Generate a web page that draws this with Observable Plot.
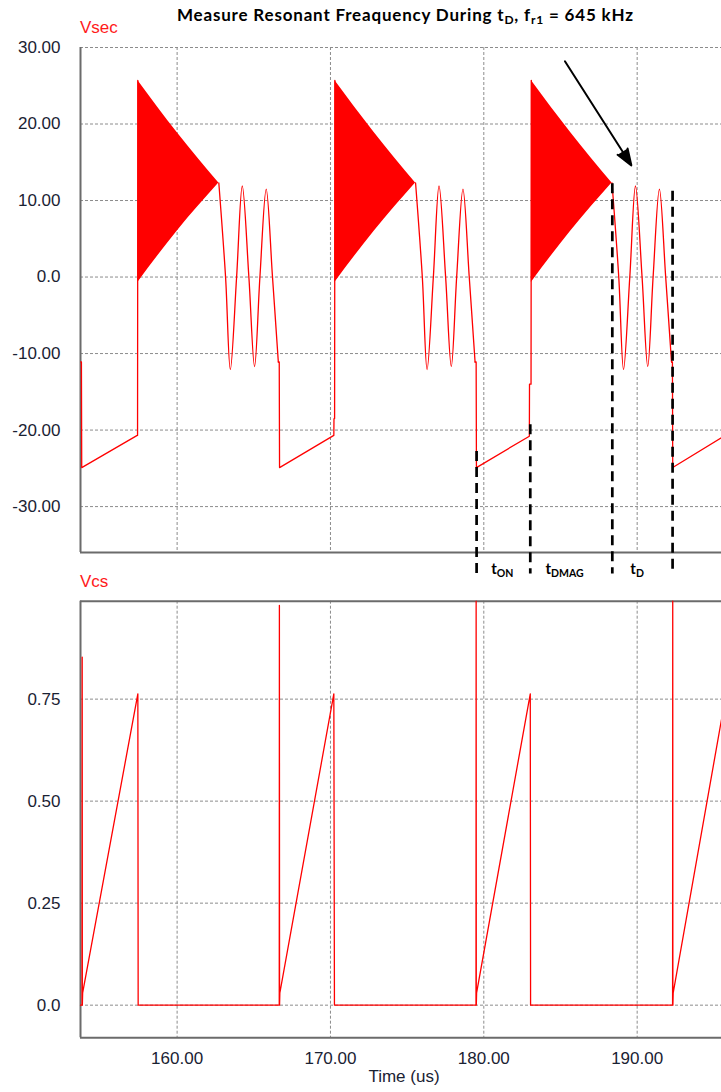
<!DOCTYPE html>
<html>
<head>
<meta charset="utf-8">
<script src="https://cdn.jsdelivr.net/npm/d3@7"></script>
<script src="https://cdn.jsdelivr.net/npm/@observablehq/plot@0.6"></script>
<style>
  body { margin: 0; background: #fff; }
  #wrap { position: relative; width: 721px; height: 1092px; overflow: hidden; background: #fff; }
  .panel { position: absolute; left: 0; }
  #overlay { position: absolute; left: 0; top: 0; pointer-events: none; }
</style>
</head>
<body>
<div id="wrap">
  <div id="p1" class="panel" style="top:0px"></div>
  <div id="p2" class="panel" style="top:580px"></div>
  <svg id="overlay" width="721" height="1092"></svg>
</div>
<script>
// ---------------- data ----------------
const xDomain = [153.7, 195.5];
const xTicks = [160, 170, 180, 190];
const xTickLabels = ["160.00", "170.00", "180.00", "190.00"];

const vsecDomain = [-36, 30];
const vsecTicks = [30, 20, 10, 0, -10, -20, -30];
const vsecTickLabels = ["30.00", "20.00", "10.00", "0.0", "-10.00", "-20.00", "-30.00"];

const vcsDomain = [-0.08, 0.99];
const vcsTicks = [0.75, 0.5, 0.25, 0];
const vcsTickLabels = ["0.75", "0.50", "0.25", "0.0"];

// Vsec piecewise-linear parts (null = break)
const vsecLineT = [153.72, 153.76, 153.78, 157.40, 157.42, 157.44, null,
                   166.60, 166.66, 166.68, 170.22, 170.23, 170.27, 170.29, null,
                   179.43, 179.50, 179.52, 182.97, 182.98, 183.08, 183.10, null,
                   192.24, 192.30, 192.32, 195.50];
const vsecLineV = [-11.1, -11.1, -24.9, -20.7, -20.7, 25.7, null,
                   -11.1, -11.1, -24.9, -20.7, -18.5, -18.5, 25.7, null,
                   -11.1, -11.1, -24.9, -20.8, -14.0, -14.0, 25.7, null,
                   -11.1, -11.1, -24.9, -21.0];

// Vsec resonant ringing during tD (null = break)
const ringT = [162.72, 163.16, 163.47, 163.88, 164.25, 164.68, 165.05, 165.40, 165.81, 166.22, 166.60, null,
               175.55, 175.99, 176.30, 176.71, 177.08, 177.51, 177.88, 178.23, 178.64, 179.05, 179.43, null,
               188.36, 188.80, 189.11, 189.52, 189.89, 190.32, 190.69, 191.04, 191.45, 191.86, 192.24];
const ringV = [12.3, 0, -12.1, 0, 11.9, 0, -11.7, 0, 11.5, 0, -11.1, null,
               12.3, 0, -12.1, 0, 11.9, 0, -11.7, 0, 11.5, 0, -11.1, null,
               12.3, 0, -12.1, 0, 11.9, 0, -11.7, 0, 11.5, 0, -11.1];

// Envelope of the fast ringing during tDMAG
const envCycle = [1, 1, 1, 2, 2, 2, 3, 3, 3];
const envT  = [157.44, 160.00, 162.72, 170.29, 172.85, 175.55, 183.10, 185.66, 188.36];
const envHi = [25.7, 18.9, 12.3, 25.7, 18.9, 12.3, 25.7, 18.9, 12.3];
const envLo = [-0.7, 6.0, 12.3, -0.7, 6.0, 12.3, -0.7, 6.0, 12.3];

// Vcs trace
const vcsT = [153.70, 153.80, 153.81, 153.82, 153.84, 157.44, 157.46,
              166.66, 166.67, 166.68, 166.70, 170.22, 170.26,
              179.49, 179.50, 179.51, 179.53, 183.03, 183.05,
              192.31, 192.32, 192.33, 192.35, 195.50];
const vcsV = [0, 0, 0.853, 0, 0.03, 0.763, 0,
              0, 0.98, 0, 0.03, 0.763, 0,
              0, 0.99, 0, 0.03, 0.763, 0,
              0, 0.99, 0, 0.03, 0.70];

// Annotations
const markerT = [179.53, 183.03, 188.38, 192.31];
const markerTop = [-22.8, -19.3, 12.2, 11.2];
const markerBottom = [-38.8, -38.8, -38.8, -38.8];
const phaseLabels = ["t|ON", "t|DMAG", "t|D"];
const phaseT = [181.2, 185.27, 190.0];
const phaseY = [-38.8, -38.8, -38.8];
const arrowFrom = [185.29, 28.2];
const arrowTo = [189.62, 14.6];

// ---------------- build ----------------
const RED = "#ff0000";
const GRID = { stroke: "#8c8c8c", strokeOpacity: 1, strokeDasharray: "3,2", strokeWidth: 1 };
const AXIS = { stroke: "#6b6b6b", strokeWidth: 2 };
const TICKCOLOR = "#1a2233";
const fmt = (ticks, labels) => { const m = new Map(ticks.map((t, i) => [t, labels[i]])); return d => m.get(d); };

const vsecLine = vsecLineT.map((t, i) => ({ t, v: vsecLineV[i] }));
const ring = ringT.map((t, i) => ({ t, v: ringV[i] }));
const env = envT.map((t, i) => ({ t, hi: envHi[i], lo: envLo[i], c: envCycle[i] }));
const vcs = vcsT.map((t, i) => ({ t, v: vcsV[i] }));
const markers = markerT.map((t, i) => ({ t, top: markerTop[i], bottom: markerBottom[i] }));
const phases = phaseLabels.map((s, i) => ({ s, t: phaseT[i], y: phaseY[i] }));
const arrows = [{ x1: arrowFrom[0], y1: arrowFrom[1], x2: arrowTo[0], y2: arrowTo[1] }];

const style = { fontFamily: "'Liberation Sans', Arial, sans-serif", fontSize: "17px", color: TICKCOLOR, background: "transparent", overflow: "visible" };

const p1 = Plot.plot({
  width: 721, height: 580,
  marginTop: 47, marginBottom: 28, marginLeft: 80, marginRight: 0,
  x: { domain: xDomain, axis: null },
  y: { domain: vsecDomain, axis: null },
  style,
  marks: [
    Plot.gridX(xTicks, GRID),
    Plot.gridY(vsecTicks, GRID),
    Plot.axisY(vsecTicks, { tickSize: 0, tickPadding: 20, tickFormat: fmt(vsecTicks, vsecTickLabels), label: null, fontSize: 17, fill: TICKCOLOR }),
    Plot.ruleX([xDomain[0]], AXIS),
    Plot.ruleY([vsecDomain[0]], AXIS),
    Plot.areaY(env, { x: "t", y1: "lo", y2: "hi", z: "c", fill: RED, curve: "monotone-x" }),
    Plot.line(vsecLine, { x: "t", y: "v", stroke: RED, strokeWidth: 1.3 }),
    Plot.line(ring, { x: "t", y: "v", stroke: RED, strokeWidth: 1.3, curve: "catmull-rom" }),
    Plot.ruleX(markers, { x: "t", y1: "top", y2: "bottom", stroke: "#000", strokeWidth: 2.7, strokeDasharray: "10,6" }),
    Plot.arrow(arrows, { x1: "x1", y1: "y1", x2: "x2", y2: "y2", stroke: "#000", strokeWidth: 2, headLength: 13, headAngle: 40, fill: "#000" }),
    Plot.text(phases, { x: "t", y: "y", text: "s", lineAnchor: "bottom", textAnchor: "middle", className: "phase", fill: "#000" })
  ]
});
document.getElementById("p1").appendChild(p1);

const p2 = Plot.plot({
  width: 721, height: 512,
  marginTop: 20.7, marginBottom: 54.7, marginLeft: 80, marginRight: 0,
  x: { domain: xDomain, axis: null },
  y: { domain: vcsDomain, axis: null },
  style,
  marks: [
    Plot.gridX(xTicks, GRID),
    Plot.gridY(vcsTicks, GRID),
    Plot.axisY(vcsTicks, { tickSize: 0, tickPadding: 20, tickFormat: fmt(vcsTicks, vcsTickLabels), label: null, fontSize: 17, fill: TICKCOLOR }),
    Plot.axisX(xTicks, { tickSize: 0, tickPadding: 14, tickFormat: fmt(xTicks, xTickLabels), label: null, fontSize: 17, fill: TICKCOLOR }),
    Plot.ruleX([xDomain[0]], AXIS),
    Plot.ruleY([vcsDomain[0]], AXIS),
    Plot.ruleY([vcsDomain[1]], AXIS),
    Plot.line(vcs, { x: "t", y: "v", stroke: RED, strokeWidth: 1.3 })
  ]
});
document.getElementById("p2").appendChild(p2);

// subscripts for phase labels
d3.select(p1).selectAll(".phase text").each(function () {
  const [a, b] = this.textContent.split("|");
  const t = d3.select(this);
  t.text("").style("font-family", "Lato, 'Open Sans', sans-serif").style("font-weight", "700");
  t.append("tspan").attr("font-size", 15).text(a);
  t.append("tspan").attr("font-size", 10.5).attr("dy", 3).text(b);
});

// titles and axis labels
const ov = d3.select("#overlay");
const title = ov.append("text").attr("x", 177).attr("y", 20.7).attr("text-anchor", "start")
  .attr("textLength", 456).attr("lengthAdjust", "spacing")
  .style("font-family", "Lato, 'Open Sans', sans-serif").style("font-weight", "700").style("font-size", "17px").attr("fill", "#000");
title.append("tspan").text("Measure Resonant Freaquency During t");
title.append("tspan").attr("font-size", 12).attr("dy", 3).text("D");
title.append("tspan").attr("dy", -3).text(", f");
title.append("tspan").attr("font-size", 12).attr("dy", 3).text("r1");
title.append("tspan").attr("dy", -3).text(" = 645 kHz");

const lab = (txt, x, y, fill, anchor) => ov.append("text").attr("x", x).attr("y", y).attr("text-anchor", anchor || "start")
  .style("font-family", "'Liberation Sans', Arial, sans-serif").style("font-size", "17px").attr("fill", fill).text(txt);
lab("Vsec", 80, 33, "#ff1a1a");
lab("Vcs", 80, 586.7, "#ff1a1a");
lab("Time (us)", 404, 1082, TICKCOLOR, "middle");
</script>
</body>
</html>
